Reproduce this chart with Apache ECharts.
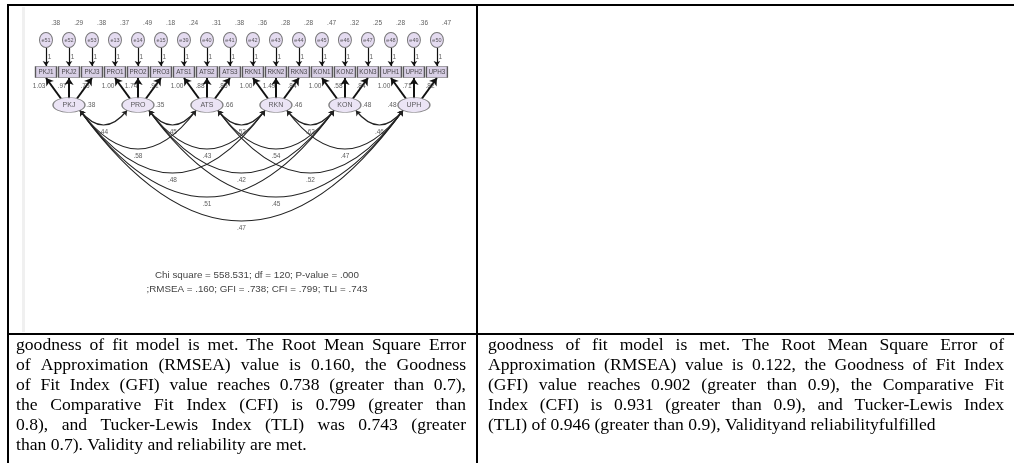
<!DOCTYPE html>
<html><head><meta charset="utf-8">
<script src="https://cdn.jsdelivr.net/npm/echarts@6/dist/echarts.min.js"></script>
<style>html,body{margin:0;padding:0;background:#fff}#c{width:1014px;height:463px}</style>
</head><body><div id="c"></div>
<script>
// ---------- data ----------
const factors = ['PKJ', 'PRO', 'ATS', 'RKN', 'KON', 'UPH'];
const factorVariances = ['.38', '.35', '.66', '.46', '.48', '.48'];
const indicators = ['PKJ1','PKJ2','PKJ3','PRO1','PRO2','PRO3','ATS1','ATS2','ATS3','RKN1','RKN2','RKN3','KON1','KON2','KON3','UPH1','UPH2','UPH3'];
const errors = ['e51','e52','e53','e13','e14','e15','e39','e40','e41','e42','e43','e44','e45','e46','e47','e48','e49','e50'];
const errorVariances = ['.38','.29','.38','.37','.49','.18','.24','.31','.38','.36','.28','.28','.47','.32','.25','.28','.36','.47'];
const fixedPaths = ['1','1','1','1','1','1','1','1','1','1','1','1','1','1','1','1','1','1'];
const loadings = ['1.03','.97','.75','1.00','1.74','.91','1.00','.88','.85','1.00','1.49','.84','1.00','.58','.84','1.00','.71','.82'];
const covFrom = ['PKJ','PRO','ATS','RKN','KON','PKJ','PRO','ATS','RKN','PKJ','PRO','ATS','PKJ','PRO','PKJ'];
const covTo   = ['PRO','ATS','RKN','KON','UPH','ATS','RKN','KON','UPH','RKN','KON','UPH','KON','UPH','UPH'];
const covValues = ['.44','.45','.52','.62','.46','.58','.43','.54','.47','.48','.42','.52','.51','.45','.47'];
const fitLines = ['Chi square = 558.531; df = 120; P-value = .000', ';RMSEA = .160; GFI = .738; CFI = .799; TLI = .743'];
const leftText = [
  'goodness of fit model is met. The Root Mean Square Error',
  'of Approximation (RMSEA) value is 0.160, the Goodness',
  'of Fit Index (GFI) value reaches 0.738 (greater than 0.7),',
  'the Comparative Fit Index (CFI) is 0.799 (greater than',
  '0.8), and Tucker-Lewis Index (TLI) was 0.743 (greater',
  'than 0.7). Validity and reliability are met.'
];
const rightText = [
  'goodness of fit model is met. The Root Mean Square Error of',
  'Approximation (RMSEA) value is 0.122, the Goodness of Fit Index',
  '(GFI) value reaches 0.902 (greater than 0.9), the Comparative Fit',
  'Index (CFI) is 0.931 (greater than 0.9), and Tucker-Lewis Index',
  '(TLI) of 0.946 (greater than 0.9), Validityand reliabilityfulfilled'
];

// ---------- layout ----------
const SLOT = 23.1, X0 = 44;
const ROW = {errVar: 23, err: 40, fixTop: 48, fixBot: 66, fixLabel: 57, box: 72, boxBot: 78,
  load: 86, factorTop: 98.5, factor: 105, arcY: 110.5, arcBase: 101, arcStep: 24, covLabelGap: 7};
const ELL = 'path://M0,1A1,1 0 1,1 2,1A1,1 0 1,1 0,1Z';
const small = {fontFamily: 'Liberation Sans', fontSize: 6.5, color: '#333'};
const hidden = {color: 'rgba(0,0,0,0)'};
const midOf = g => g * 3 + 1;
const fIdx = n => factors.indexOf(n);

const chart = echarts.init(document.getElementById('c'));

function labelSeries(data) {
  return {type: 'scatter', symbol: 'rect', symbolSize: 1, itemStyle: hidden, silent: true, z: 5,
    label: Object.assign({show: true, position: 'inside', formatter: '{b}'}, small), data: data};
}

const base = {
  animation: false,
  grid: {left: X0 - 2 * SLOT, width: 21 * SLOT, top: 0, height: 463},
  xAxis: {type: 'value', min: -2, max: 19, show: false},
  yAxis: {type: 'value', min: 0, max: 463, inverse: true, show: false},
  series: []
};
chart.setOption(base);

const px = (x, y) => chart.convertToPixel({gridIndex: 0}, [x, y]);

const series = [];
// error circles
series.push({type: 'scatter', symbol: ELL, symbolSize: [13, 15], z: 3,
  itemStyle: {color: '#ddd2ec', borderColor: '#555', borderWidth: 1},
  label: Object.assign({show: true, position: 'inside', formatter: '{b}'}, small, {fontSize: 5.5}),
  data: errors.map((e, i) => ({name: e, value: [i, ROW.err]}))});
series.push(labelSeries(errorVariances.map((v, i) => ({name: v, value: [i + 0.42, ROW.errVar]}))));
// fixed paths
series.push({type: 'lines', coordinateSystem: 'cartesian2d', symbol: ['none', 'arrow'], symbolSize: 5, z: 2,
  lineStyle: {color: '#111', width: 1.2, opacity: 1},
  data: fixedPaths.map((v, i) => ({coords: [[i, ROW.fixTop], [i, ROW.fixBot]]}))});
series.push(labelSeries(fixedPaths.map((v, i) => ({name: v, value: [i + 0.15, ROW.fixLabel]}))));
// boxes
series.push({type: 'scatter', symbol: 'rect', symbolSize: [21, 11], z: 3,
  itemStyle: {color: '#cfc4e0', borderColor: '#333', borderWidth: 1},
  label: Object.assign({show: true, position: 'inside', formatter: '{b}'}, small, {fontSize: 6.3, color: '#222'}),
  data: indicators.map((n, i) => ({name: n, value: [i, ROW.box]}))});
// loading arrows
series.push({type: 'lines', coordinateSystem: 'cartesian2d', symbol: ['none', 'arrow'], symbolSize: 7, z: 2,
  lineStyle: {color: '#111', width: 2, opacity: 1},
  data: indicators.map((n, i) => {
    const m = midOf(Math.floor(i / 3));
    return {coords: [[m + (i - m) * 0.35, ROW.factorTop], [i, ROW.boxBot]]};
  })});
series.push(labelSeries(loadings.map((v, i) => ({name: v, value: [i - 0.3, ROW.load]}))));
// factors
series.push({type: 'scatter', symbol: ELL, symbolSize: [32, 15], z: 3,
  itemStyle: {color: '#e6ddf3', borderColor: '#666', borderWidth: 1},
  label: Object.assign({show: true, position: 'inside', formatter: '{b}'}, small, {fontSize: 7, color: '#333'}),
  data: factors.map((f, g) => ({name: f, value: [midOf(g), ROW.factor]}))});
series.push(labelSeries(factorVariances.map((v, g) => ({name: v,
  value: [midOf(g) + (g === factors.length - 1 ? -0.95 : 0.95), ROW.factor]}))));
// covariances
const startDx = 11 / SLOT;
const covData = covFrom.map((a, k) => {
  const ga = fIdx(a), gb = fIdx(covTo[k]);
  const p1 = [midOf(ga) + startDx, ROW.arcY], p2 = [midOf(gb) - startDx, ROW.arcY];
  const q1 = px(p1[0], p1[1]), q2 = px(p2[0], p2[1]);
  const bottom = ROW.arcBase + ROW.arcStep * (gb - ga);
  const depth = px(0, bottom)[1] - q1[1];
  return {coords: [p1, p2], lineStyle: {curveness: -2 * depth / (q2[0] - q1[0])}};
});
series.push({type: 'lines', coordinateSystem: 'cartesian2d', symbol: ['arrow', 'arrow'], symbolSize: 5, z: 2,
  lineStyle: {color: '#222', width: 1.2, opacity: 1}, data: covData});
series.push(labelSeries(covValues.map((v, k) => {
  const ga = fIdx(covFrom[k]), gb = fIdx(covTo[k]);
  return {name: v, value: [(midOf(ga) + midOf(gb)) / 2, ROW.arcBase + ROW.arcStep * (gb - ga) + ROW.covLabelGap]};
})));

// ---------- table + texts ----------
const FONT = '17.6px "Liberation Serif"';
const ctx = document.createElement('canvas').getContext('2d');
ctx.font = FONT;
function justify(lines, x0, x1, y0, lh) {
  const els = [];
  lines.forEach((line, k) => {
    const y = y0 + k * lh;
    const words = line.split(' ');
    const last = k === lines.length - 1;
    const widths = words.map(w => ctx.measureText(w).width);
    const total = widths.reduce((s, w) => s + w, 0);
    const gap = last || words.length < 2 ? ctx.measureText(' ').width : (x1 - x0 - total) / (words.length - 1);
    let x = x0;
    words.forEach((w, j) => {
      els.push({type: 'text', silent: true, style: {text: w, x: x, y: y, font: FONT, fill: '#000', align: 'left', verticalAlign: 'middle'}});
      x += widths[j] + gap;
    });
  });
  return els;
}
const lineEl = (x1, y1, x2, y2) => ({type: 'line', silent: true, z: 10,
  shape: {x1, y1, x2, y2}, style: {stroke: '#000', lineWidth: 2}});
const graphic = [
  {type: 'rect', silent: true, z: -1, shape: {x: 22, y: 7, width: 3, height: 325}, style: {fill: '#f0f0f0'}},
  lineEl(8, 5, 1014, 5), lineEl(8, 334, 1014, 334), lineEl(8, 4, 8, 463), lineEl(477, 4, 477, 463),
  ...fitLines.map((t, k) => ({type: 'text', silent: true, style: {text: t, x: 257, y: 275 + k * 14,
    font: '9.8px "Liberation Sans"', fill: '#444', align: 'center', verticalAlign: 'middle'}})),
  ...justify(leftText, 16, 466, 345, 20),
  ...justify(rightText, 488, 1004, 345, 20)
];

chart.setOption({series: series, graphic: graphic});
</script></body></html>
